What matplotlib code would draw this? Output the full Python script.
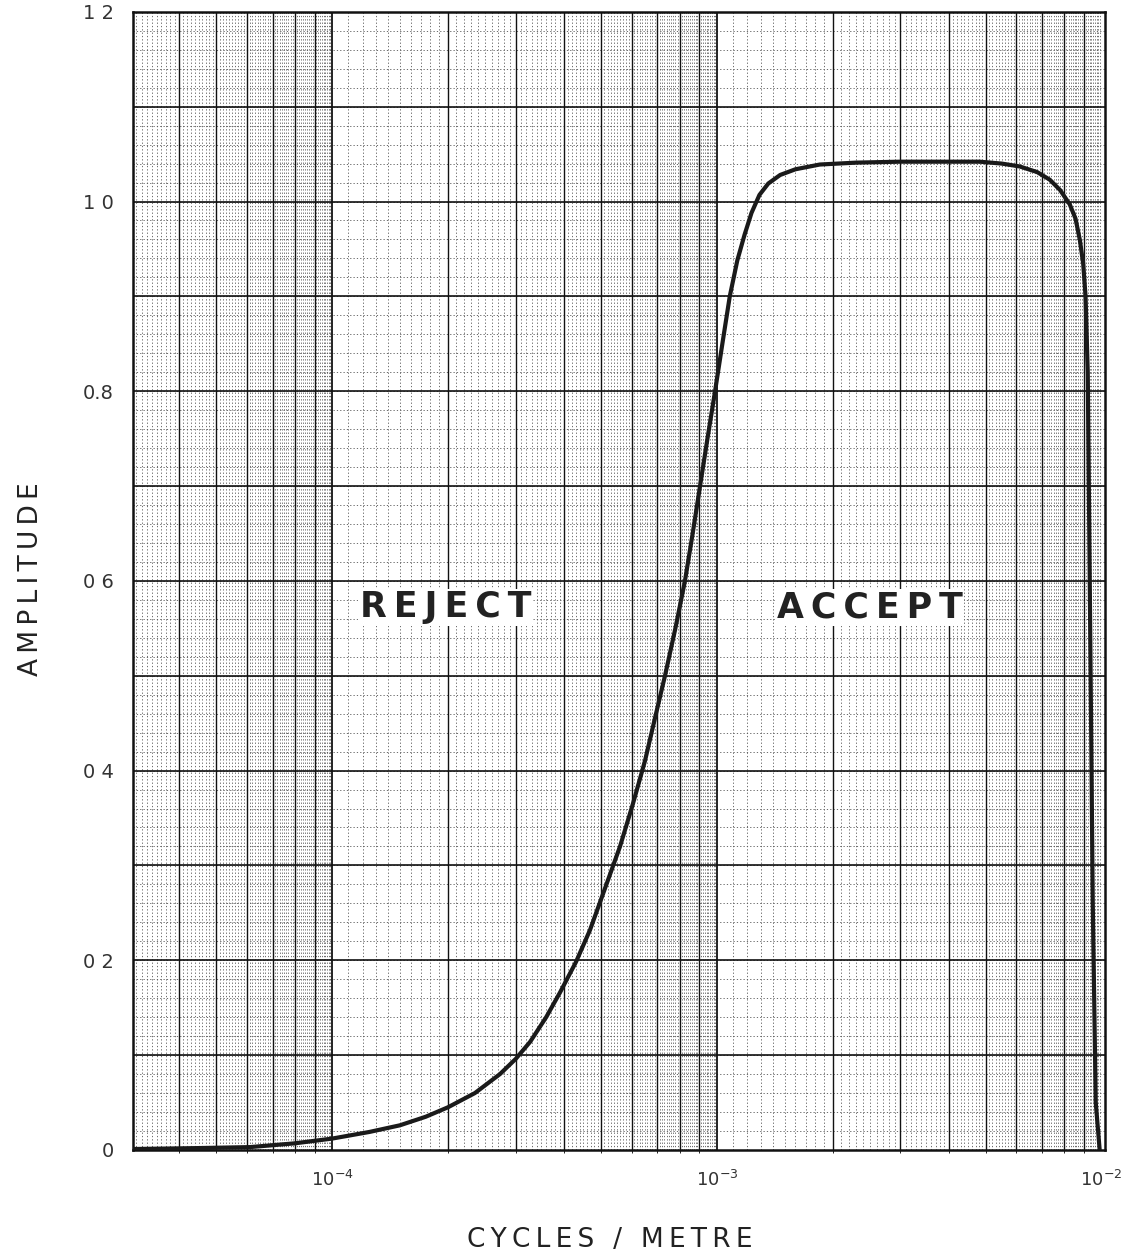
import numpy as np
import matplotlib
matplotlib.use("Agg")
import matplotlib.pyplot as plt
from matplotlib.ticker import FixedLocator, NullFormatter

# data
freq = [3.04e-5, 4.5e-5, 6.1e-5, 8.0e-5, 1.0e-4, 1.25e-4, 1.5e-4, 1.75e-4,
        2.0e-4, 2.35e-4, 2.73e-4, 3.0e-4, 3.27e-4, 3.6e-4, 3.91e-4, 4.3e-4,
        4.68e-4, 5.1e-4, 5.6e-4, 6.05e-4, 6.5e-4, 6.9e-4, 7.33e-4, 7.8e-4,
        8.26e-4, 8.65e-4, 9.04e-4, 9.45e-4, 9.89e-4, 1.035e-3, 1.08e-3,
        1.13e-3, 1.18e-3, 1.23e-3, 1.29e-3, 1.36e-3, 1.46e-3, 1.6e-3,
        1.85e-3, 2.3e-3, 2.99e-3, 3.8e-3, 4.82e-3, 5.5e-3, 6.12e-3, 6.8e-3,
        7.33e-3, 7.8e-3, 8.26e-3, 8.55e-3, 8.77e-3, 8.95e-3, 9.08e-3,
        9.2e-3, 9.31e-3, 9.48e-3, 9.65e-3, 9.88e-3]
amp = [0.001, 0.002, 0.003, 0.007, 0.012, 0.019, 0.026, 0.035,
       0.045, 0.060, 0.080, 0.096, 0.114, 0.140, 0.166, 0.198,
       0.232, 0.274, 0.320, 0.365, 0.410, 0.455, 0.500, 0.550,
       0.600, 0.650, 0.700, 0.750, 0.800, 0.852, 0.900,
       0.938, 0.965, 0.988, 1.007, 1.019, 1.028, 1.034,
       1.039, 1.041, 1.042, 1.042, 1.042, 1.040, 1.037, 1.031,
       1.023, 1.012, 0.997, 0.982, 0.960, 0.935, 0.900,
       0.820, 0.600, 0.260, 0.050, 0.0]

ytick_vals = [0, 0.2, 0.4, 0.6, 0.8, 1.0, 1.2]
ytick_labels = ["0", "0 2", "0 4", "0 6", "0.8", "1 0", "1 2"]
xtick_vals = [1e-4, 1e-3, 1e-2]
xtick_labels = [r"$10^{-4}$", r"$10^{-3}$", r"$10^{-2}$"]

fig = plt.figure(figsize=(11.38, 12.59), dpi=100)
ax = fig.add_axes([0.117, 0.0866, 0.854, 0.904])

ax.set_xscale("log")
ax.set_xlim(3.04e-5, 1.02e-2)
ax.set_ylim(0, 1.2)

# graph-paper grid
major_x = [n * 10.0**k for k in (-5, -4, -3) for n in range(1, 10)]
fine_x = [n * 10.0**k for k in (-5, -4, -3) for n in np.arange(1.1, 10, 0.1)
          if abs(n - round(n)) > 0.05]
ax.xaxis.set_major_locator(FixedLocator(xtick_vals))
ax.xaxis.set_minor_locator(FixedLocator(major_x))
ax.xaxis.set_minor_formatter(NullFormatter())
for xv in fine_x:
    ax.axvline(xv, color="#555555", lw=0.6, ls=(0, (1.5, 2.5)), zorder=1)
for xv in major_x:
    ax.axvline(xv, color="#111111", lw=1.3 if xv in xtick_vals else 1.0, zorder=2)
for yv in np.arange(0.02, 1.2, 0.02):
    ax.axhline(yv, color="#555555", lw=0.6, ls=(0, (1.5, 2.5)), zorder=1)
for yv in np.arange(0.1, 1.2, 0.1):
    ax.axhline(yv, color="#111111", lw=1.2, zorder=2)

ax.plot(freq, amp, color="#1a1a1a", lw=3, zorder=5, solid_joinstyle="round")

sp = "\u2009"
ax.text(1.97e-4, 0.572, sp.join("REJECT"), fontsize=25, fontweight="semibold",
        ha="center", va="center", color="#222222", zorder=6,
        bbox=dict(facecolor="white", edgecolor="none", pad=1))
ax.text(2.5e-3, 0.572, sp.join("ACCEPT"), fontsize=25, fontweight="semibold",
        ha="center", va="center", color="#222222", zorder=6,
        bbox=dict(facecolor="white", edgecolor="none", pad=1))

ax.set_yticks(ytick_vals)
ax.set_yticklabels(ytick_labels, fontsize=14, color="#333333")
ax.set_xticks(xtick_vals)
ax.set_xticklabels(xtick_labels, fontsize=13, color="#333333")
ax.tick_params(length=0, pad=14)
for s in ax.spines.values():
    s.set_linewidth(1.8)
    s.set_color("#111111")

fig.text(0.027, 0.54, sp.join("AMPLITUDE"), rotation=90, fontsize=19,
         ha="center", va="center", color="#222222")
fig.text(0.536, 0.015, sp.join("CYCLES / METRE"), fontsize=19,
         ha="center", va="center", color="#222222")

fig.savefig("out.png", dpi=100, facecolor="white")
